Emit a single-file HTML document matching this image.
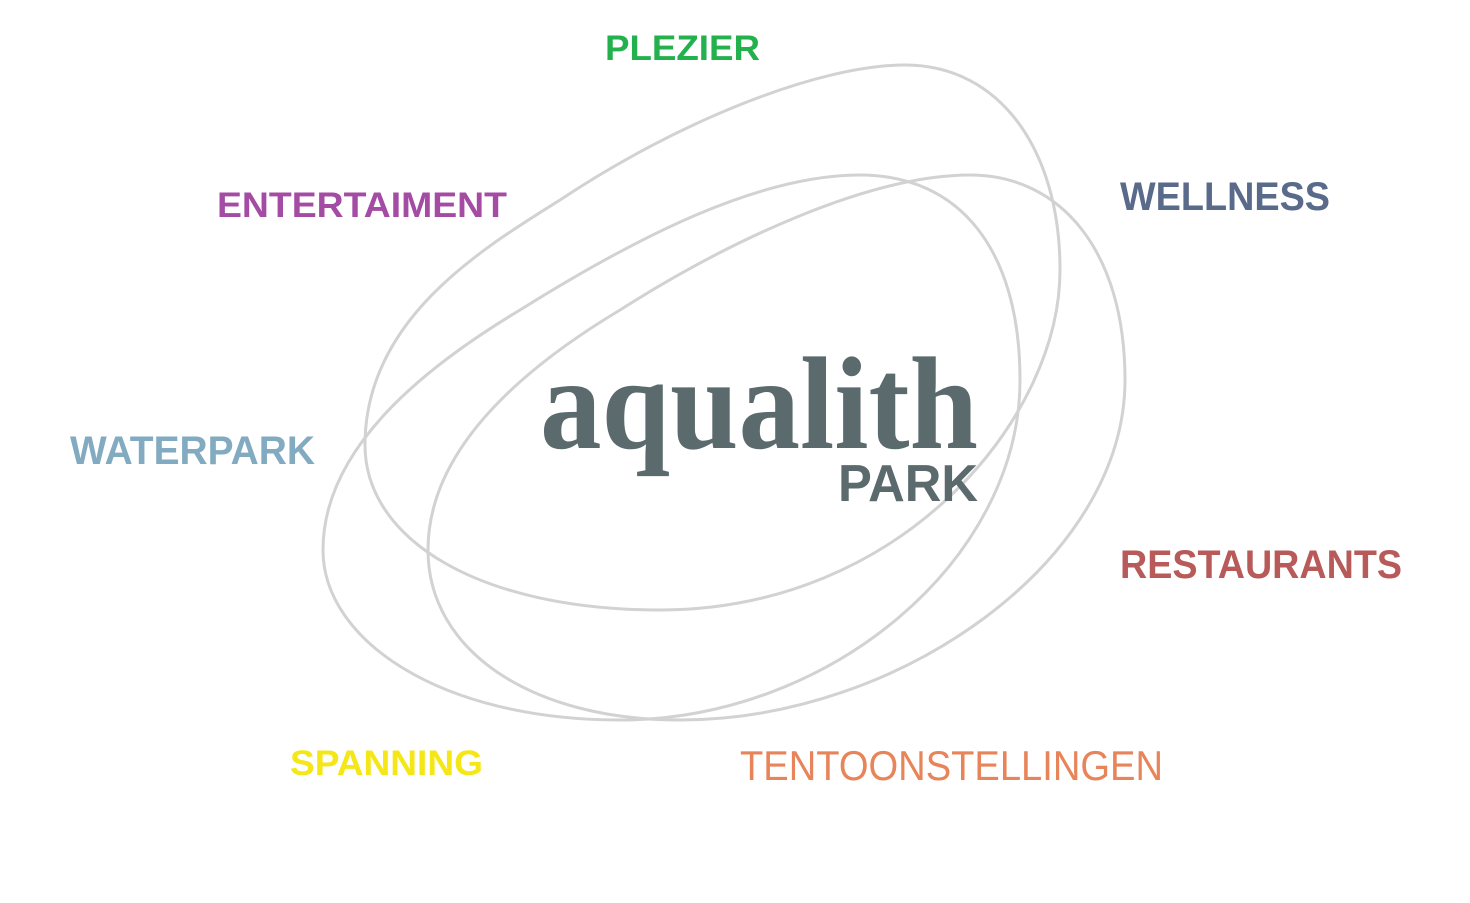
<!DOCTYPE html>
<html><head><meta charset="utf-8"><style>
html,body{margin:0;padding:0;background:#fff;}
svg{display:block;}
</style></head><body>
<svg width="1470" height="903" viewBox="0 0 1470 903" xmlns="http://www.w3.org/2000/svg">
<g fill="none" stroke="#d2d2d2" stroke-width="3">
<path d="M905,65 C1000,65 1060,150 1060,270 C1060,420 900,610 660,610 C480,610 365,540 365,445 C365,320 480,250 560,200 C680,120 820,65 905,65 Z"/>
<path d="M860,175 C960,175 1020,250 1020,380 C1020,560 830,720 620,720 C440,720 323,640 323,550 C323,450 420,370 520,310 C640,235 760,175 860,175 Z"/>
<path d="M970,175 C1060,175 1125,250 1125,380 C1125,560 900,720 680,720 C530,720 428,650 428,550 C428,450 520,370 620,310 C730,240 870,175 970,175 Z"/>
</g>
<g font-family="Liberation Sans, sans-serif" font-weight="bold">
<text x="605" y="60" font-size="35" fill="#22b14c" textLength="155" lengthAdjust="spacingAndGlyphs">PLEZIER</text>
<text x="217" y="217" font-size="35" fill="#a44ba4" textLength="290" lengthAdjust="spacingAndGlyphs">ENTERTAIMENT</text>
<text x="1120" y="210" font-size="40" fill="#5a6a8a" textLength="210" lengthAdjust="spacingAndGlyphs">WELLNESS</text>
<text x="70" y="464" font-size="40" fill="#82aac0" textLength="245" lengthAdjust="spacingAndGlyphs">WATERPARK</text>
<text x="1120" y="578" font-size="40" fill="#b85a5a" textLength="282" lengthAdjust="spacingAndGlyphs">RESTAURANTS</text>
<text x="290" y="775" font-size="35" fill="#f5e616" textLength="193" lengthAdjust="spacingAndGlyphs">SPANNING</text>
<text x="740" y="780" font-size="42" font-weight="normal" fill="#e8845a" textLength="423" lengthAdjust="spacingAndGlyphs">TENTOONSTELLINGEN</text>
</g>
<text x="540" y="448" font-family="Liberation Serif, serif" font-weight="bold" font-size="132" fill="#5b6a6d" textLength="438" lengthAdjust="spacingAndGlyphs">aqualith</text>
<text x="838" y="501" font-family="Liberation Sans, sans-serif" font-weight="bold" font-size="52" fill="#5b6a6d" textLength="140" lengthAdjust="spacingAndGlyphs">PARK</text>
</svg>
</body></html>
